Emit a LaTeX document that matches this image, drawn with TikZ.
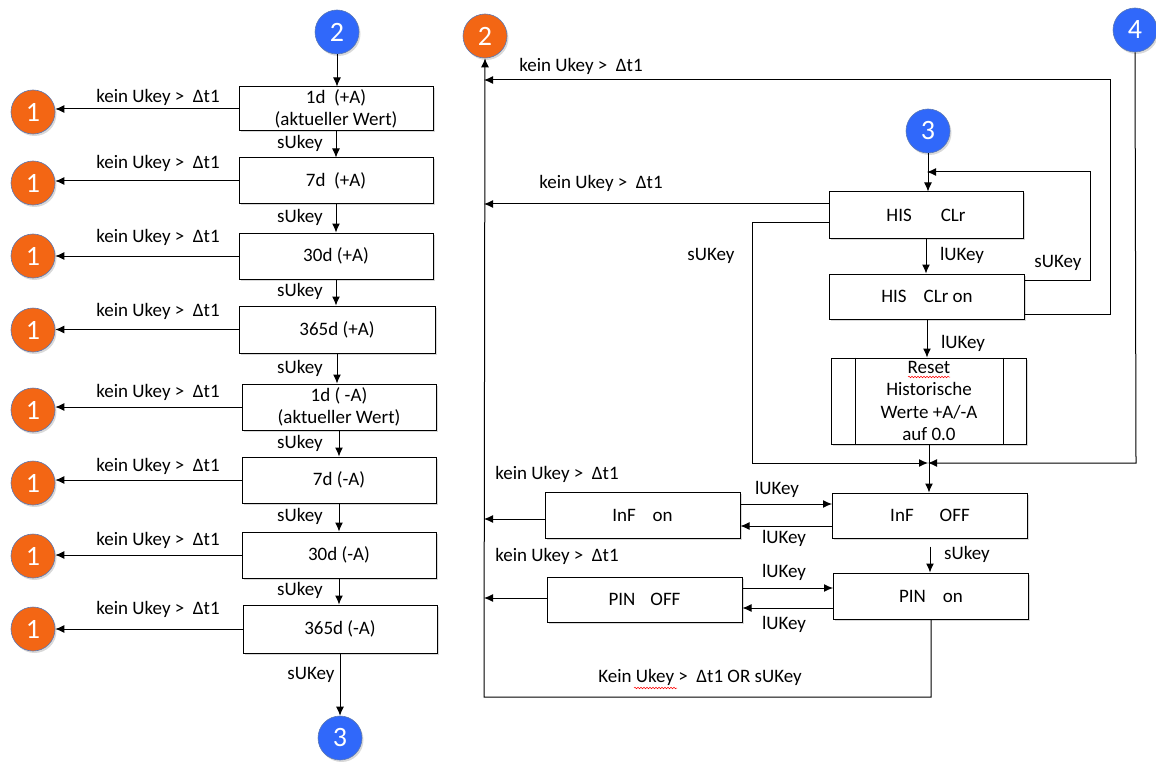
\documentclass[tikz,border=0pt]{standalone}
\usepackage{fontspec}
\setmainfont{Carlito}
\usetikzlibrary{arrows.meta,shadows,decorations.pathmorphing}
\definecolor{orng}{RGB}{243,102,20}
\definecolor{blu}{RGB}{48,104,250}
\definecolor{ring}{RGB}{90,120,180}
\tikzset{
  fnt/.style={font=\fontsize{19}{22.5}\selectfont},
  box/.style={fnt,draw,line width=1pt,fill=white,minimum width=195pt,minimum height=46pt,inner sep=0pt,align=center,
    drop shadow={shadow xshift=1.5pt,shadow yshift=-1.5pt,opacity=0.3}},
  circ/.style={circle,minimum size=44pt,inner sep=0pt,text=white,font=\fontsize{28}{28}\selectfont,draw=ring,line width=0.6pt,
    drop shadow={shadow xshift=1.5pt,shadow yshift=-2pt,opacity=0.3}},
  oc/.style={circ,fill=orng},
  bc/.style={circ,fill=blu},
  lbl/.style={fnt,inner sep=0pt},
  arr/.style={line width=1pt,-{Latex[length=9pt,width=8pt]}},
  wavy/.style={red,line width=0.5pt,decorate,decoration={snake,amplitude=0.8pt,segment length=3pt}}
}
\begin{document}
\begin{tikzpicture}[x=1pt,y=-1pt]
\useasboundingbox (0,0) rectangle (1156,762);
% ---------- left column ----------
\node[bc] (c2) at (337,32) {2};
\node[box,minimum height=44pt,minimum width=194pt] (b1) at (336,109) {1d\ \ (+A)\\(aktueller Wert)};
\node[box,minimum width=194pt] (b2) at (336,181) {7d\ \ (+A)};
\node[box,minimum width=194pt] (b3) at (336,256) {30d (+A)};
\node[box,minimum height=47pt,minimum width=196pt] (b4) at (337,329.5) {365d (+A)};
\node[box,minimum width=194pt] (b5) at (339,407) {1d ( -A)\\(aktueller Wert)};
\node[box,minimum width=194pt] (b6) at (339,480) {7d (-A)};
\node[box,minimum width=194pt] (b7) at (339,555) {30d (-A)};
\node[box,minimum height=48pt,minimum width=194pt] (b8) at (340,629) {365d (-A)};
\node[bc] (c3l) at (340,738) {3};
\node[oc] (o1) at (33,112) {1};
\node[oc] (o2) at (33,183) {1};
\node[oc] (o3) at (33,256) {1};
\node[oc] (o4) at (33,330) {1};
\node[oc] (o5) at (33,410) {1};
\node[oc] (o6) at (33,483) {1};
\node[oc] (o7) at (33,556) {1};
\node[oc] (o8) at (33,629) {1};
\draw[arr] (c2.south) -- (c2.south |- b1.north);
\foreach \a/\b in {b1/b2,b2/b3,b3/b4,b4/b5,b5/b6,b6/b7,b7/b8}{
  \draw[arr] (\a.south) -- (\a.south |- \b.north);
}
\draw[arr] (b8.south) -- (c3l.north);
\foreach \b/\o in {b1/o1,b2/o2,b3/o3,b4/o4,b5/o5,b6/o6,b7/o7,b8/o8}{
  \draw[arr] (\b.west) -- (\b.west -| \o.east);
}
\foreach \y in {97,163,237,311,392,466,540,609}{
  \node[lbl] at (158,\y) {kein Ukey >\ \ Δt1};
}
\foreach \y in {143,217,291,368,443,516,590}{
  \node[lbl] at (300,\y) {sUkey};
}
\node[lbl] at (311,675) {sUKey};
% ---------- right part ----------
\coordinate (mx) at (484,0);
\coordinate (mainbot) at (484,697);
\node[oc] (o2r) at (485,36) {2};
\node[bc] (c4) at (1135,30) {4};
\node[bc] (c3) at (928,131) {3};
\node[box,minimum width=194pt] (his) at (926,215) {HIS\hspace{29pt}CLr};
\node[box,minimum height=45pt] (hison) at (927,296.5) {HIS\hspace{17pt}CLr on};
\node[box,minimum height=86pt] (reset) at (929,401) {};
\node[fnt,align=center,inner sep=0pt] (resettxt) at (929,401) {Reset\\Historische\\Werte +A/-A\\auf 0.0};
\draw[line width=1pt] ([xshift=24pt]reset.north west) -- ([xshift=24pt]reset.south west);
\draw[line width=1pt] ([xshift=-24pt]reset.north east) -- ([xshift=-24pt]reset.south east);
\node[box,minimum height=45pt] (inoff) at (930,515.5) {InF\hspace{26pt}OFF};
\node[box] (inon) at (642.5,515) {InF\hspace{17pt}on};
\node[box] (pinon) at (931,596) {PIN\hspace{17pt}on};
\node[box,minimum height=45pt] (pinoff) at (644.5,599.5) {PIN\hspace{15pt}OFF};
\coordinate (r1) at (1110,80);
\coordinate (m80) at (484,80);
\coordinate (r2) at (1090,172);
\coordinate (j0) at (927,172);
\coordinate (l1) at (752,463);
\coordinate (j1) at (928,463);
\coordinate (c4b) at (1136,463);
% main return line
\draw[arr] (pinon.south) |- (mainbot) -- (o2r.south);
% HIS CLr on -> top
\draw[arr] ([yshift=5pt]hison.south east) -| (r1) -- (m80);
% circle 4
\draw[arr] (c4.south) -- (c4b) -- (j1);
% circle 3
\draw[arr] (c3.south) -- (c3.south |- his.north);
% sUKey loop right
\draw[arr] ([yshift=-7pt]hison.north east) -| (r2) -- (j0);
% HIS left
\draw[arr] ([yshift=11pt]his.west) -- ([yshift=11pt]his.west -| mx);
\draw[arr] ([yshift=-7pt]his.west) -| (l1) -- (j1);
\draw[arr] (his.south) -- (his.south |- hison.north);
\draw[arr] (hison.south) -- (hison.south |- reset.north);
\draw[arr] (reset.south) -- (reset.south |- inoff.north);
% InF
\draw[arr] ([yshift=11pt]inon.east) -- ([yshift=11pt]inon.east -| inoff.west);
\draw[arr] ([yshift=-10.5pt]inoff.west) -- ([yshift=-10.5pt]inoff.west -| inon.east);
\draw[arr] ([yshift=-4pt]inon.west) -- ([yshift=-4pt]inon.west -| mx);
\draw[arr] ([yshift=-8pt]inoff.south) -- (inoff.south |- pinon.north);
% PIN
\draw[arr] ([yshift=11.5pt]pinoff.east) -- ([yshift=11.5pt]pinoff.east -| pinon.west);
\draw[arr] ([yshift=-12pt]pinon.west) -- ([yshift=-12pt]pinon.west -| pinoff.east);
\draw[arr] ([yshift=1.5pt]pinoff.west) -- ([yshift=1.5pt]pinoff.west -| mx);
% labels
\node[lbl] at (581,66) {kein Ukey >\ \ Δt1};
\node[lbl] at (601,183) {kein Ukey >\ \ Δt1};
\node[lbl] at (557,474) {kein Ukey >\ \ Δt1};
\node[lbl] at (557,556) {kein Ukey >\ \ Δt1};
\node[lbl] at (711,256) {sUKey};
\node[lbl] at (1058,263) {sUKey};
\node[lbl] at (962,255) {lUKey};
\node[lbl] at (963,343) {lUKey};
\node[lbl] at (777,489) {lUKey};
\node[lbl] at (784,538) {lUKey};
\node[lbl] at (967,554) {sUkey};
\node[lbl] at (784,572) {lUKey};
\node[lbl] at (784,624) {lUKey};
\node[lbl] (bot) at (700,677) {Kein Ukey >\ \ Δt1 OR sUKey};
\draw[wavy] (908,377) -- (950,377);
\draw[wavy] (634,688) -- (677,688);
\end{tikzpicture}
\end{document}
